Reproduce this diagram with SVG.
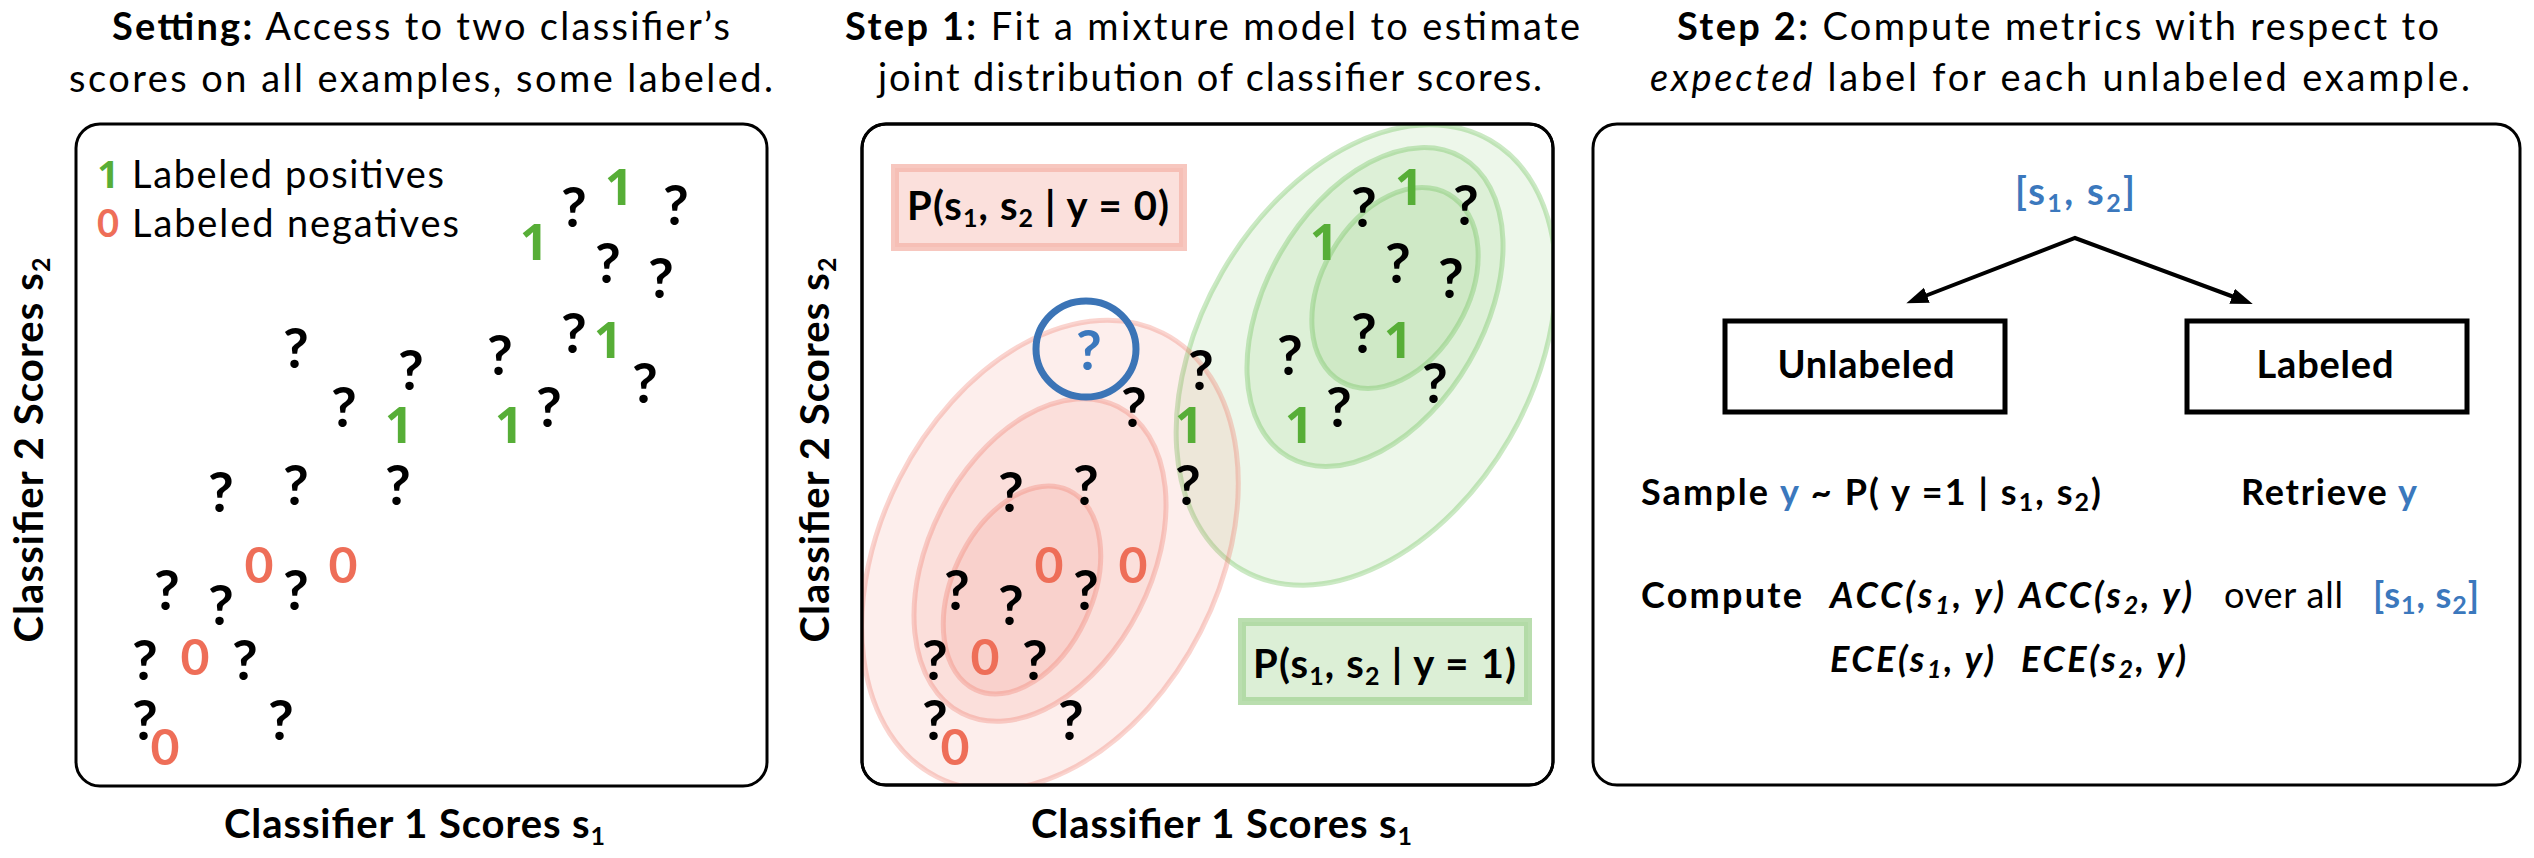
<svg xmlns="http://www.w3.org/2000/svg" width="2534" height="858" viewBox="0 0 2534 858">
<style>
text{font-family:Lato,"Liberation Sans",sans-serif;fill:#000}
.title{font-size:38px}
.b{font-weight:bold}
.it{font-style:italic}
.axis{font-size:40px;font-weight:bold}
.sub{font-size:25px}
.leg{font-size:38px}
.q{font-size:56px;font-weight:bold;text-anchor:middle}
.one{font-family:"Open Sans",Roboto,sans-serif;font-size:50px;font-weight:bold;fill:#57ae37;text-anchor:middle}
.zero{font-size:50px;font-weight:bold;fill:#ee6e58;text-anchor:middle}
.blue{fill:#3b78bd}
.panel{fill:#fff;stroke:#000;stroke-width:3}
.gel{fill:#6abf55;fill-opacity:0.12;stroke:#6abf55;stroke-opacity:0.35;stroke-width:5}
.rel{fill:#f07060;fill-opacity:0.12;stroke:#f07060;stroke-opacity:0.3;stroke-width:5}
.pb{font-size:40px;font-weight:bold}
.t36{font-size:36px;font-weight:bold}
.node{fill:#fff;stroke:#000;stroke-width:5}
.conn{fill:none;stroke:#000;stroke-width:4;stroke-linejoin:miter}
</style>
<defs>
<marker id="ah" markerUnits="userSpaceOnUse" markerWidth="24" markerHeight="18" refX="2" refY="8" orient="auto-start-reverse">
<path d="M0,0 L22,8 L0,16 z" fill="#000"/>
</marker>
<clipPath id="clip2"><rect x="862" y="124" width="691" height="661" rx="24"/></clipPath>
</defs>

<g id="titles">
<text class="title" x="112" y="40" textLength="618"><tspan class="b">Setting:</tspan> Access to two classifier’s</text>
<text class="title" x="69" y="92" textLength="704">scores on all examples, some labeled.</text>
<text class="title" x="845" y="40" textLength="735"><tspan class="b">Step 1:</tspan> Fit a mixture model to estimate</text>
<text class="title" x="878" y="91" textLength="664">joint distribution of classifier scores.</text>
<text class="title" x="1677" y="40" textLength="762"><tspan class="b">Step 2:</tspan> Compute metrics with respect to</text>
<text class="title" x="1650" y="91" textLength="820"><tspan class="it">expected</tspan> label for each unlabeled example.</text>
</g>

<g id="panel-setting">
<rect class="panel" x="76" y="124" width="691" height="662" rx="24"/>
<text class="axis" transform="translate(43,450) rotate(-90)" text-anchor="middle" textLength="385">Classifier 2 Scores s<tspan class="sub" dy="7">2</tspan></text>
<text class="axis" x="224" y="838" textLength="381">Classifier 1 Scores s<tspan class="sub" dy="7">1</tspan></text>
<g id="legend">
<text class="leg b" x="108" y="188" style="fill:#57ae37;font-family:'Open Sans',sans-serif" text-anchor="middle">1</text>
<text class="leg" x="132" y="188" textLength="312">Labeled positives</text>
<text class="leg b" x="108" y="237" style="fill:#ee6e58" text-anchor="middle">0</text>
<text class="leg" x="132" y="237" textLength="327">Labeled negatives</text>
</g>
<g id="points1">
<text class="q" x="574" y="227">?</text>
<text class="q" x="676" y="225">?</text>
<text class="q" x="608" y="283">?</text>
<text class="q" x="661" y="298">?</text>
<text class="q" x="296" y="368">?</text>
<text class="q" x="500" y="375">?</text>
<text class="q" x="574" y="353">?</text>
<text class="q" x="411" y="390">?</text>
<text class="q" x="645" y="403">?</text>
<text class="q" x="344" y="427">?</text>
<text class="q" x="549" y="427">?</text>
<text class="q" x="221" y="512">?</text>
<text class="q" x="296" y="505">?</text>
<text class="q" x="398" y="505">?</text>
<text class="q" x="167" y="610">?</text>
<text class="q" x="221" y="625">?</text>
<text class="q" x="296" y="610">?</text>
<text class="q" x="145" y="680">?</text>
<text class="q" x="245" y="680">?</text>
<text class="q" x="145" y="740">?</text>
<text class="q" x="281" y="740">?</text>
<text class="one" x="619" y="205">1</text>
<text class="one" x="534" y="260">1</text>
<text class="one" x="608" y="358">1</text>
<text class="one" x="399" y="443">1</text>
<text class="one" x="509" y="443">1</text>
<text class="zero" x="259" y="583">0</text>
<text class="zero" x="343" y="583">0</text>
<text class="zero" x="195" y="675">0</text>
<text class="zero" x="165" y="765">0</text>
</g>
</g>

<g id="panel-step1">
<rect class="panel" x="862" y="124" width="691" height="661" rx="24"/>
<g id="mixture" clip-path="url(#clip2)">
<ellipse class="gel" cx="1366" cy="355" rx="166" ry="248" transform="rotate(30 1366 355)"/>
<ellipse class="gel" cx="1375" cy="307" rx="109" ry="173" transform="rotate(30 1375 307)"/>
<ellipse class="gel" cx="1395" cy="288" rx="73" ry="108" transform="rotate(30 1395 288)"/>
<ellipse class="rel" cx="1050" cy="555" rx="169" ry="249" transform="rotate(27 1050 555)"/>
<ellipse class="rel" cx="1040" cy="560" rx="111" ry="172" transform="rotate(27 1040 560)"/>
<ellipse class="rel" cx="1022" cy="590" rx="70" ry="110" transform="rotate(25 1022 590)"/>
</g>
<rect class="panel" x="862" y="124" width="691" height="661" rx="24" style="fill:none"/>
<text class="axis" transform="translate(829,450) rotate(-90)" text-anchor="middle" textLength="385">Classifier 2 Scores s<tspan class="sub" dy="7">2</tspan></text>
<text class="axis" x="1031" y="838" textLength="381">Classifier 1 Scores s<tspan class="sub" dy="7">1</tspan></text>
<g id="p-y0">
<rect x="895" y="168" width="288" height="79" fill="#fbe0dc" stroke="#f4b4aa" stroke-opacity="0.75" stroke-width="8"/>
<text class="pb" x="907" y="220" textLength="262">P(s<tspan class="sub" dy="7">1</tspan><tspan dy="-7">, s</tspan><tspan class="sub" dy="7">2</tspan><tspan dy="-7"> | y = 0)</tspan></text>
</g>
<g id="p-y1">
<rect x="1242" y="622" width="286" height="79" fill="#dcefd6" stroke="#a9d69b" stroke-opacity="0.8" stroke-width="8"/>
<text class="pb" x="1253" y="678" textLength="263">P(s<tspan class="sub" dy="7">1</tspan><tspan dy="-7">, s</tspan><tspan class="sub" dy="7">2</tspan><tspan dy="-7"> | y = 1)</tspan></text>
</g>
<g id="points2">
<text class="q" x="1364" y="227">?</text>
<text class="q" x="1466" y="225">?</text>
<text class="q" x="1398" y="283">?</text>
<text class="q" x="1451" y="298">?</text>
<text class="q" x="1290" y="375">?</text>
<text class="q" x="1364" y="353">?</text>
<text class="q" x="1201" y="390">?</text>
<text class="q" x="1435" y="403">?</text>
<text class="q" x="1134" y="427">?</text>
<text class="q" x="1339" y="427">?</text>
<text class="q" x="1011" y="512">?</text>
<text class="q" x="1086" y="505">?</text>
<text class="q" x="1188" y="505">?</text>
<text class="q" x="957" y="610">?</text>
<text class="q" x="1011" y="625">?</text>
<text class="q" x="1086" y="610">?</text>
<text class="q" x="935" y="680">?</text>
<text class="q" x="1035" y="680">?</text>
<text class="q" x="935" y="740">?</text>
<text class="q" x="1071" y="740">?</text>
<text class="one" x="1409" y="205">1</text>
<text class="one" x="1324" y="260">1</text>
<text class="one" x="1398" y="358">1</text>
<text class="one" x="1189" y="443">1</text>
<text class="one" x="1299" y="443">1</text>
<text class="zero" x="1049" y="583">0</text>
<text class="zero" x="1133" y="583">0</text>
<text class="zero" x="985" y="675">0</text>
<text class="zero" x="955" y="765">0</text>
</g>
<g id="selected">
<ellipse cx="1086" cy="349" rx="50" ry="48" fill="none" stroke="#3b74b6" stroke-width="7"/>
<text class="q blue" x="1089" y="370">?</text>
</g>
</g>

<g id="panel-step2">
<rect class="panel" x="1593" y="124" width="927" height="661" rx="24"/>
<g id="node-scores">
<text class="b blue" x="2015" y="205" font-size="38" textLength="120">[s<tspan class="sub" dy="7">1</tspan><tspan dy="-7">, s</tspan><tspan class="sub" dy="7">2</tspan><tspan dy="-7">]</tspan></text>
</g>
<g id="node-unlabeled">
<rect class="node" x="1725" y="321" width="280" height="91"/>
<text class="b" x="1866" y="378" font-size="38" text-anchor="middle" textLength="177">Unlabeled</text>
</g>
<g id="node-labeled">
<rect class="node" x="2187" y="321" width="280" height="91"/>
<text class="b" x="2325" y="378" font-size="38" text-anchor="middle" textLength="137">Labeled</text>
</g>
<g id="connectors">
<path class="conn" d="M1925,296 L2075,238 L2234,297" marker-start="url(#ah)" marker-end="url(#ah)"/>
</g>
<g id="steps">
<text class="t36" x="1641" y="505" textLength="460">Sample <tspan class="blue">y</tspan> ~ P( y =1 | s<tspan class="sub" dy="6">1</tspan><tspan dy="-6">, s</tspan><tspan class="sub" dy="6">2</tspan><tspan dy="-6">)</tspan></text>
<text class="t36" x="2241" y="505" textLength="176">Retrieve <tspan class="blue">y</tspan></text>
<text class="t36" x="1641" y="608" textLength="161">Compute</text>
<text class="t36 it" x="1830" y="608" textLength="174">ACC(s<tspan class="sub" dy="6">1</tspan><tspan dy="-6">, y)</tspan></text>
<text class="t36 it" x="2019" y="608" textLength="173">ACC(s<tspan class="sub" dy="6">2</tspan><tspan dy="-6">, y)</tspan></text>
<text x="2224" y="608" font-size="36" textLength="119">over all</text>
<text class="t36 blue" x="2373" y="608" textLength="106">[s<tspan class="sub" dy="6">1</tspan><tspan dy="-6">, s</tspan><tspan class="sub" dy="6">2</tspan><tspan dy="-6">]</tspan></text>
<text class="t36 it" x="1830" y="672" textLength="164">ECE(s<tspan class="sub" dy="6">1</tspan><tspan dy="-6">, y)</tspan></text>
<text class="t36 it" x="2021" y="672" textLength="165">ECE(s<tspan class="sub" dy="6">2</tspan><tspan dy="-6">, y)</tspan></text>
</g>
</g>
</svg>
